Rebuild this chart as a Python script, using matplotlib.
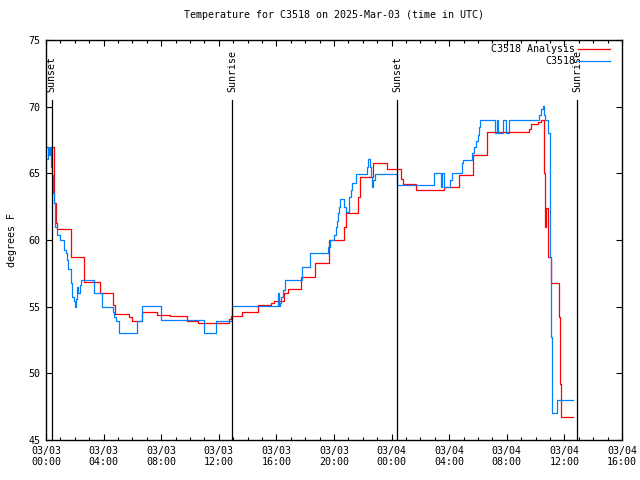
import matplotlib
matplotlib.use("Agg")
import matplotlib.pyplot as plt
from matplotlib.ticker import MultipleLocator

plt.rcParams['font.family'] = 'DejaVu Sans Mono'
plt.rcParams['font.size'] = 7.2

# hours since 2025-03-03 00:00 UTC, temperature in F (step data)
analysis_hours = [0.07, 0.59, 0.69, 0.76, 1.72, 2.66, 3.72, 4.65, 4.79, 5.76, 5.97, 6.67,
                  7.71, 8.61, 9.79, 10.56, 12.71, 12.85, 13.61, 14.70, 15.63, 15.83, 16.53,
                  16.80, 17.71, 18.68, 19.65, 20.69, 20.83, 21.67, 21.81, 22.71, 23.68, 24.65,
                  24.76, 25.69, 27.64, 28.68, 29.65, 30.63, 33.54, 33.68, 34.17, 34.38, 34.60,
                  34.67, 34.72, 34.86, 35.07, 35.63, 35.69, 35.73, 36.58]
analysis_temp = [67.0, 62.8, 61.3, 60.8, 58.75, 56.85, 56.0, 55.1, 54.45, 54.2, 53.9, 54.6,
                 54.4, 54.3, 53.95, 53.8, 54.1, 54.3, 54.6, 55.1, 55.25, 55.45, 56.0,
                 56.3, 57.2, 58.25, 60.0, 61.0, 62.0, 63.25, 64.7, 65.75, 65.3, 64.6,
                 64.2, 63.75, 63.95, 64.9, 66.4, 68.1, 68.3, 68.7, 68.85, 69.0, 65.0,
                 61.0, 62.4, 58.7, 56.75, 54.2, 49.2, 46.7, 46.7]

obs_hours = [0.05, 0.14, 0.24, 0.28, 0.37, 0.42, 0.49, 0.56, 0.63, 0.76, 0.95, 1.27, 1.39,
             1.46, 1.56, 1.72, 1.81, 1.94, 2.01, 2.08, 2.17, 2.22, 2.33, 2.45, 3.30, 3.92,
             4.65, 4.72, 4.83, 5.07, 6.32, 6.67, 7.99, 10.97, 11.81, 12.92, 16.13, 16.16,
             16.25, 16.32, 16.46, 16.60, 17.78, 18.33, 19.58, 19.72, 20.00, 20.14, 20.24,
             20.28, 20.35, 20.42, 20.72, 20.83, 21.04, 21.18, 21.25, 21.53, 22.29, 22.36,
             22.50, 22.57, 22.64, 22.71, 22.85, 24.38, 26.97, 27.40, 27.47, 27.64, 28.09,
             28.19, 28.89, 28.96, 29.58, 29.72, 29.86, 29.97, 30.07, 30.14, 31.15, 31.32,
             31.37, 31.74, 31.94, 32.12, 34.24, 34.38, 34.48, 34.55, 34.62, 34.86, 34.97,
             35.03, 35.09, 35.16, 35.51, 36.58]
obs_temp = [66.1, 67.0, 66.4, 67.0, 65.5, 64.9, 63.5, 62.8, 61.0, 60.4, 60.0, 59.25, 59.0,
            58.5, 57.8, 56.8, 55.75, 55.4, 55.0, 55.6, 56.5, 56.0, 56.6, 57.0, 56.0, 55.0,
            54.6, 54.25, 53.9, 53.0, 53.95, 55.05, 54.0, 53.0, 53.95, 55.05, 56.0, 55.05,
            55.25, 55.75, 56.25, 57.0, 58.0, 59.0, 59.5, 60.0, 60.4, 61.0, 61.4,
            62.0, 62.5, 63.05, 62.5, 62.1, 63.25, 63.75, 64.25, 64.95, 65.5, 66.05,
            65.5, 64.75, 64.0, 64.5, 64.95, 64.1, 65.0, 64.0, 65.0, 64.0, 64.5,
            65.05, 65.75, 66.0, 66.5, 67.0, 67.4, 67.9, 68.5, 69.0, 68.0, 69.0,
            68.0, 69.0, 68.0, 69.0, 69.4, 69.8, 70.05, 69.4, 69.0, 68.0, 62.25,
            58.75, 52.75, 47.0, 48.0, 48.0]

sun_hours = [0.40, 12.94, 24.40, 36.90]
sun_labels = ["Sunset", "Sunrise", "Sunset", "Sunrise"]

tick_hours = [0, 4, 8, 12, 16, 20, 24, 28, 32, 36, 40]
tick_labels = ["03/03\n00:00", "03/03\n04:00", "03/03\n08:00", "03/03\n12:00",
               "03/03\n16:00", "03/03\n20:00", "03/04\n00:00", "03/04\n04:00",
               "03/04\n08:00", "03/04\n12:00", "03/04\n16:00"]

fig = plt.figure(figsize=(6.4, 4.8), dpi=100)
ax = fig.add_axes([46/640, 40/480, 576/640, 400/480])

ax.step(analysis_hours, analysis_temp, where='post', color='#ff0000', lw=0.9,
        label='C3518 Analysis')
ax.step(obs_hours, obs_temp, where='post', color='#0080ff', lw=0.9, label='C3518')

trans = ax.get_xaxis_transform()
for h, name in zip(sun_hours, sun_labels):
    ax.plot([h, h], [0, 0.85], color='black', lw=0.9, transform=trans)
    ax.text(h, 0.87, name, rotation=90, ha='center', va='bottom', transform=trans)

ax.set_xlim(0, 40)
ax.set_ylim(45, 75)
ax.set_xticks(tick_hours)
ax.set_xticklabels(tick_labels)
ax.xaxis.set_minor_locator(MultipleLocator(1))
ax.yaxis.set_major_locator(MultipleLocator(5))
ax.tick_params(which='both', direction='in', top=True, right=True, width=0.8)
ax.tick_params(which='major', length=4.5, pad=4)
ax.tick_params(which='minor', length=2)
for s in ax.spines.values():
    s.set_linewidth(1.0)

ax.set_ylabel('degrees F', labelpad=8)
ax.set_title('Temperature for C3518 on 2025-Mar-03 (time in UTC)', fontsize=7.2, pad=16)

ax.legend(loc='upper right', frameon=False, markerfirst=False, handlelength=3.2,
          handletextpad=0.3, borderaxespad=0.2, labelspacing=0.25,
          bbox_to_anchor=(0.99, 1.005))

fig.savefig('out.png', dpi=100)
